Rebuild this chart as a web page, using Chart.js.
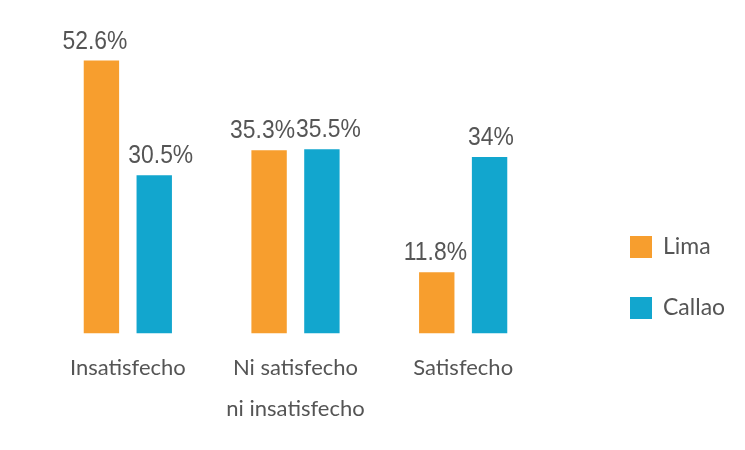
<!DOCTYPE html>
<html>
<head>
<meta charset="utf-8">
<script src="https://cdn.jsdelivr.net/npm/chart.js@4/dist/chart.umd.min.js"></script>
<style>
    html, body { margin: 0; padding: 0; background: #fff; }
    #wrap { width: 745px; height: 450px; }
</style>
</head>
<body>
<div id="wrap"><canvas id="satisfChart" width="745" height="450"></canvas></div>
<script>
const categories = [["Insatisfecho"], ["Ni satisfecho", "ni insatisfecho"], ["Satisfecho"]];
const seriesNames = ["Lima", "Callao"];
const limaValues = [52.6, 35.3, 11.8];
const callaoValues = [30.5, 35.5, 34];
const valueLabels = [["52.6%", "35.3%", "11.8%"], ["30.5%", "35.5%", "34%"]];
const colors = ["#F79E2E", "#12A6CE"];

// value labels above each bar (narrowed to look like the condensed original)
const LABEL_SCALE = 0.88;
const barLabels = {
    id: "barLabels",
    afterDatasetsDraw(chart) {
        const ctx = chart.ctx;
        ctx.save();
        ctx.font = "26px 'Liberation Sans', Arial, sans-serif";
        const limaBars = chart.getDatasetMeta(0).data;
        const callaoBars = chart.getDatasetMeta(1).data;
        limaBars.forEach((lb, j) => {
            const cb = callaoBars[j];
            const wL = ctx.measureText(valueLabels[0][j]).width * LABEL_SCALE;
            const wC = ctx.measureText(valueLabels[1][j]).width * LABEL_SCALE;
            let xL = lb.x, xC = cb.x;
            // push neighbouring labels apart if they would collide
            const overlap = (xL + wL / 2) - (xC - wC / 2) + 1;
            if (overlap > 0) { xL -= overlap / 2; xC += overlap / 2; }
            [[xL, lb.y, valueLabels[0][j]], [xC, cb.y, valueLabels[1][j]]].forEach(([x, y, t]) => {
                ctx.save();
                ctx.translate(x, y - 6);
                ctx.scale(LABEL_SCALE, 1);
                ctx.fillStyle = "#555";
                ctx.textAlign = "center";
                ctx.textBaseline = "bottom";
                ctx.fillText(t, 0, 0);
                ctx.restore();
            });
        });
        ctx.restore();
    },
};

// legend drawn to the right of the plot
const sideLegend = {
    id: "sideLegend",
    afterDraw(chart) {
        const ctx = chart.ctx;
        const x = chart.chartArea.right + 83;
        const rows = [247, 308];
        ctx.save();
        ctx.font = "23px Lato, sans-serif";
        ctx.textBaseline = "middle";
        seriesNames.forEach((name, i) => {
            ctx.fillStyle = colors[i];
            ctx.fillRect(x, rows[i] - 11, 22, 22);
            ctx.fillStyle = "#555";
            ctx.fillText(name, x + 33, rows[i]);
        });
        ctx.restore();
    },
};

const ctx = document.getElementById("satisfChart").getContext("2d");
const satisfChart = new Chart(ctx, {
    type: "bar",
    data: {
        labels: categories,
        datasets: [
            {
                label: seriesNames[0],
                data: limaValues,
                backgroundColor: colors[0],
                categoryPercentage: 0.63,
                barPercentage: 0.67,
            },
            {
                label: seriesNames[1],
                data: callaoValues,
                backgroundColor: colors[1],
                categoryPercentage: 0.63,
                barPercentage: 0.67,
            },
        ],
    },
    options: {
        responsive: false,
        animation: false,
        layout: {
            padding: { left: 44, right: 198, top: 22, bottom: 15 },
        },
        plugins: {
            legend: { display: false },
            tooltip: { enabled: false },
        },
        scales: {
            x: {
                grid: { display: false },
                border: { display: false },
                ticks: {
                    color: "#555",
                    padding: 6,
                    font: { family: "Lato", size: 22, lineHeight: 1.85 },
                },
            },
            y: {
                display: false,
                min: 0,
                max: 60,
            },
        },
    },
    plugins: [barLabels, sideLegend],
});
</script>
</body>
</html>
